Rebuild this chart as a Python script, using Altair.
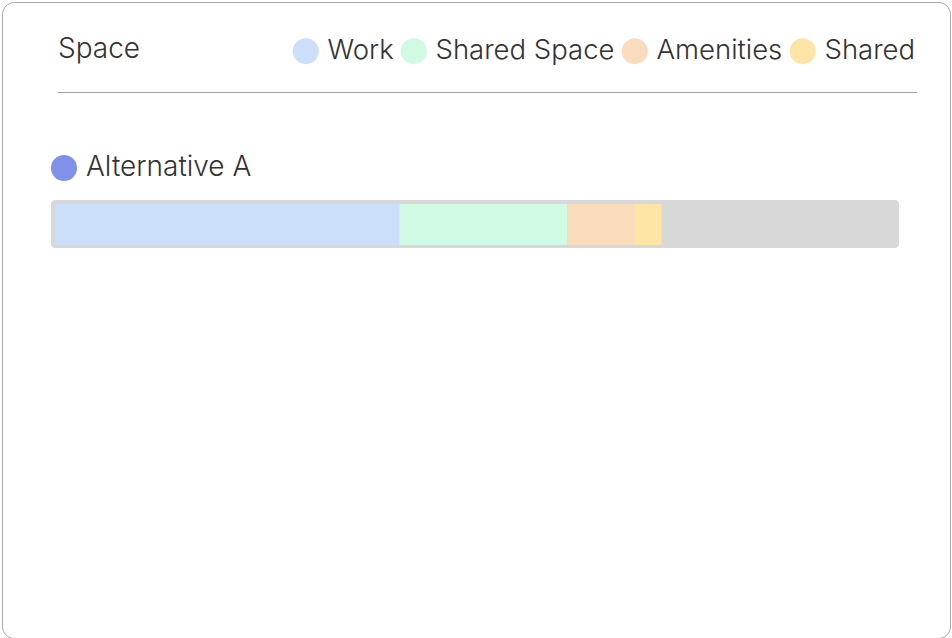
import altair as alt
import pandas as pd

# ---- data ----
categories = ["Work", "Shared Space", "Amenities", "Shared"]
values = [41, 20, 8, 3.2]
colors = ["#cbdffb", "#d0fae4", "#fadcbc", "#fee5a5"]
rows = ["Alternative A"]
row_colors = ["#7f91e8"]
total = 100

FONT = "'Inter Light', Inter"
TEXT = "#333333"
FS = 28

seg = pd.DataFrame({
    "row": rows[0],
    "category": categories,
    "value": values,
    "idx": list(range(len(categories))),
})
rowdf = pd.DataFrame({"row": rows, "rc": row_colors, "start": [0], "end": [total]})

x_scale = alt.Scale(domain=[0, total], range=[53, 893])
y_scale = alt.Scale(domain=rows, range=[198, 246], paddingInner=0, paddingOuter=0)

base_y = alt.Y("row:N", scale=y_scale, axis=None)

track = alt.Chart(rowdf).mark_bar(color="#d8d8d8", cornerRadius=4, xOffset=-4, x2Offset=4).encode(
    x=alt.X("start:Q", scale=x_scale, axis=None),
    x2="end:Q",
    y=base_y,
)

bars = alt.Chart(seg).mark_bar(size=41, yOffset=0.5).encode(
    x=alt.X("value:Q", stack="zero", scale=x_scale, axis=None),
    y=base_y,
    order=alt.Order("idx:Q"),
    color=alt.Color(
        "category:N",
        scale=alt.Scale(domain=categories, range=colors),
        legend=alt.Legend(
            title=None,
            orient="none",
            legendX=290,
            legendY=35,
            direction="horizontal",
            symbolType="circle",
            symbolSize=676,
            symbolStrokeWidth=0,
            symbolOpacity=1,
            labelFont=FONT,
            labelFontSize=27.5,
            labelFontWeight=300,
            labelColor=TEXT,
            labelOffset=8,
            columnPadding=6,
            labelLimit=400,
        ),
    ),
)

dot = alt.Chart(rowdf).mark_circle(size=676, opacity=1, yOffset=-56).encode(
    x=alt.value(62),
    y=base_y,
    color=alt.Color("rc:N", scale=None, legend=None),
)

label = alt.Chart(rowdf).mark_text(
    align="left", baseline="alphabetic", yOffset=-48, font=FONT, fontSize=FS,
    fontWeight=300, color=TEXT,
).encode(
    x=alt.value(84),
    y=base_y,
    text="row:N",
)

rule = alt.Chart(rowdf).mark_rule(color="#a0a0a0", strokeWidth=1).encode(
    x=alt.value(56), x2=alt.value(915), y=alt.value(90.5)
)

chart = alt.layer(track, bars, dot, label, rule).properties(
    width=948,
    height=636,
    title=alt.TitleParams(
        text="Space", anchor="start", frame="group", orient="top",
        offset=-55, baseline="alphabetic", dx=56, dy=29,
        font=FONT, fontSize=FS, fontWeight=300, color=TEXT,
    ),
    view=alt.ViewBackground(stroke="#aaaaaa", strokeWidth=1, cornerRadius=12, fill="white"),
    padding={"left": 2, "top": 2, "right": 2, "bottom": 0},
    autosize=alt.AutoSizeParams(type="none"),
).configure(background="white")

chart.save("out.html", embed_options={"renderer": "svg", "actions": False})
